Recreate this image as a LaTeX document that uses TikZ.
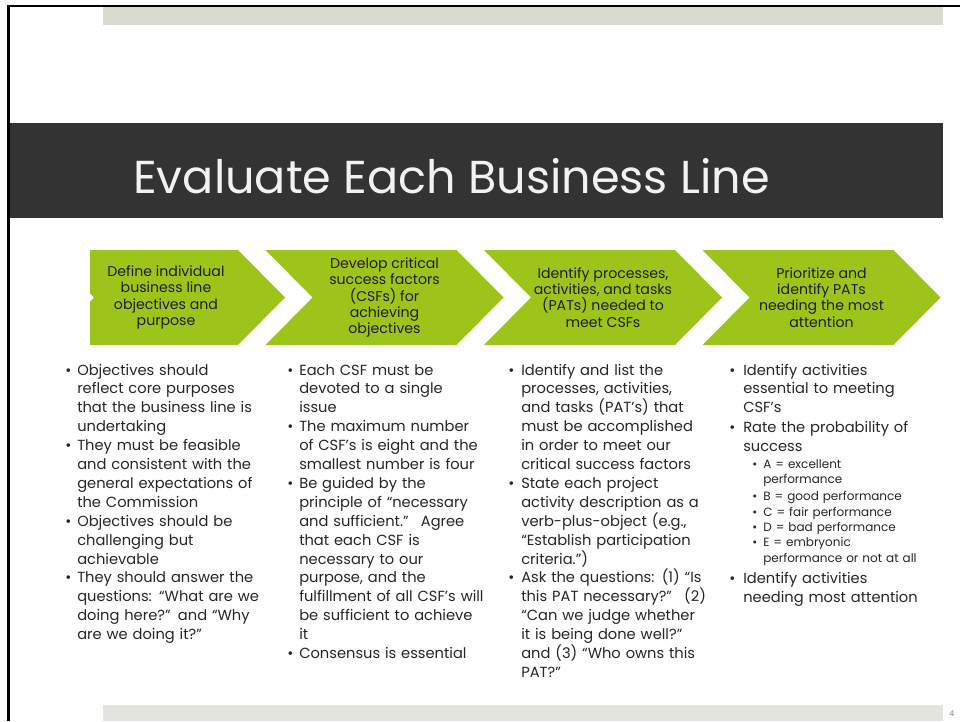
\documentclass[tikz,border=0pt]{standalone}
\usepackage{fontspec}
\setmainfont{Poppins}
\definecolor{band}{HTML}{333333}
\definecolor{topbar}{HTML}{D7DBD0}
\definecolor{botbar}{HTML}{E3E4DC}
\definecolor{chev}{HTML}{9DC41A}
\definecolor{ink}{HTML}{262626}
\definecolor{chevink}{HTML}{1E1E1E}
\definecolor{titleink}{HTML}{F2F2F2}
\tikzset{
  chevtext/.style={align=center, inner sep=0, text=chevink, font=\fontsize{10.6}{12.2}\selectfont},
  body/.style={anchor=base west, inner sep=0, text=ink, align=left, text width=200pt,
               font=\fontsize{11}{14.175}\selectfont},
  sub/.style={anchor=base west, inner sep=0, text=ink, align=left, text width=200pt,
               font=\fontsize{9}{11.5}\selectfont},
  bul/.style={anchor=base west, inner sep=0, text=ink, font=\fontsize{11}{14.175}\selectfont},
  subbul/.style={anchor=base west, inner sep=0, text=ink, font=\fontsize{9}{11.5}\selectfont},
}
\begin{document}
\begin{tikzpicture}[x=0.75pt,y=-0.75pt]
\useasboundingbox (0,0) rectangle (960,721);
\fill[white] (0,0) rectangle (960,721);

% decorative bars and title band
\fill[topbar] (103,7) rectangle (943,25);
\fill[botbar] (103,705) rectangle (943,721);
\fill[band] (9,123) rectangle (943,218);
\draw[line width=2.2pt] (960,6) -- (8.5,6) -- (8.5,721);

\node[anchor=base west, inner sep=0, text=titleink, font=\fontsize{34.6}{40}\selectfont]
  (title) at (133,193) {Evaluate Each Business Line};

% process chevrons
\begin{scope}
  \clip (90,240) rectangle (300,360);
  \fill[chev] (47,250) -- (238,250) -- (285,297.5) -- (238,345) -- (47,345) -- (94,297.5) -- cycle;
\end{scope}
\foreach \x in {265.5,484,702.5}{
  \fill[chev] (\x,250) -- (\x+191,250) -- (\x+238,297.5) -- (\x+191,345) -- (\x,345) -- (\x+47,297.5) -- cycle;
}
\node[chevtext] (c1) at (166,297.5) {Define individual\\business line\\objectives and\\purpose};
\node[chevtext] (c2) at (384.5,297.5) {Develop critical\\success factors\\(CSFs) for\\achieving\\objectives};
\node[chevtext] (c3) at (603,297.5) {Identify processes,\\activities, and tasks\\(PATs) needed to\\meet CSFs};
\node[chevtext] (c4) at (821.5,297.5) {Prioritize and\\identify PATs\\needing the most\\attention};

% column 1
\node[bul] (b11) at (65,375) {•};
\node[body] (t11) at (77,375) {Objectives should\\reflect core purposes\\that the business line is\\undertaking};
\node[bul] (b12) at (65,450.6) {•};
\node[body] (t12) at (77,450.6) {They must be feasible\\and consistent with the\\general expectations of\\the Commission};
\node[bul] (b13) at (65,526.2) {•};
\node[body] (t13) at (77,526.2) {Objectives should be\\challenging but\\achievable};
\node[bul] (b14) at (65,582.9) {•};
\node[body] (t14) at (77,582.9) {They should answer the\\questions: “What are we\\doing here?” and “Why\\are we doing it?”};

% column 2
\node[bul] (b21) at (287,375) {•};
\node[body] (t21) at (299,375) {Each CSF must be\\devoted to a single\\issue};
\node[bul] (b22) at (287,431.7) {•};
\node[body] (t22) at (299,431.7) {The maximum number\\of CSF’s is eight and the\\smallest number is four};
\node[bul] (b23) at (287,488.4) {•};
\node[body] (t23) at (299,488.4) {Be guided by the\\principle of “necessary\\and sufficient.”~ Agree\\that each CSF is\\necessary to our\\purpose, and the\\fulfillment of all CSF’s will\\be sufficient to achieve\\it};
\node[bul] (b24) at (287,658.5) {•};
\node[body] (t24) at (299,658.5) {Consensus is essential};

% column 3
\node[bul] (b31) at (508,375) {•};
\node[body] (t31) at (521,375) {Identify and list the\\processes, activities,\\and tasks (PAT’s) that\\must be accomplished\\in order to meet our\\critical success factors};
\node[bul] (b32) at (508,488.4) {•};
\node[body] (t32) at (521,488.4) {State each project\\activity description as a\\verb-plus-object (e.g.,\\“Establish participation\\criteria.”)};
\node[bul] (b33) at (508,582.9) {•};
\node[body] (t33) at (521,582.9) {Ask the questions: (1) “Is\\this PAT necessary?”~ (2)\\“Can we judge whether\\it is being done well?”\\and (3) “Who owns this\\PAT?”};

% column 4
\node[bul] (b41) at (729,375) {•};
\node[body] (t41) at (743,375) {Identify activities\\essential to meeting\\CSF’s};
\node[bul] (b42) at (729,432.7) {•};
\node[body] (t42) at (743,432.7) {Rate the probability of\\success};
\node[subbul] (s1) at (752,468.3) {•};
\node[sub] (u1) at (763,468.3) {A = excellent\\performance};
\node[subbul] (s2) at (752,500.4) {•};
\node[sub] (u2) at (763,500.4) {B = good performance};
\node[subbul] (s3) at (752,516.4) {•};
\node[sub] (u3) at (763,516.4) {C = fair performance};
\node[subbul] (s4) at (752,531.3) {•};
\node[sub] (u4) at (763,531.3) {D = bad performance};
\node[subbul] (s5) at (752,546.7) {•};
\node[sub] (u5) at (763,546.7) {E = embryonic\\performance or not at all};
\node[bul] (b43) at (729,583.3) {•};
\node[body] (t43) at (743,583.3) {Identify activities\\needing most attention};

% slide number
\node[anchor=base, inner sep=0, text=black!45, font=\fontsize{6}{7}\selectfont] (pg) at (952,716) {4};
\end{tikzpicture}
\end{document}
